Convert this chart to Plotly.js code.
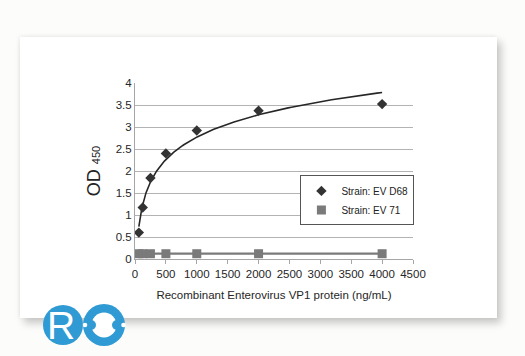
<!DOCTYPE html>
<html>
<head>
<meta charset="utf-8">
<script src="https://cdn.plot.ly/plotly-3.0.1.min.js"></script>
<style>
  html, body { margin:0; padding:0; background:#fcfcfa; width:525px; height:356px; overflow:hidden; }
  #card { position:absolute; left:20px; top:37px; width:477px; height:281px; background:#ffffff;
          box-shadow: 4px 5px 8px rgba(0,0,0,0.22), -1px -1px 4px rgba(0,0,0,0.06); }
  #chart { position:absolute; left:0; top:0; width:525px; height:356px; }
  #logo { position:absolute; left:0; top:0; width:525px; height:356px; pointer-events:none; }
</style>
</head>
<body>
<div id="card"></div>
<div id="chart"></div>
<svg id="logo" width="525" height="356" xmlns="http://www.w3.org/2000/svg">
  <circle cx="63" cy="325" r="20" fill="#2f9ad3"/>
  <circle cx="104" cy="325" r="21" fill="#2f9ad3"/>
  <circle cx="104" cy="325" r="12.5" fill="#ffffff"/>
  <circle cx="91" cy="325" r="5" fill="#2f9ad3"/>
  <circle cx="117" cy="325" r="5" fill="#2f9ad3"/>
  <circle cx="85" cy="325" r="2.3" fill="#ffffff"/>
  <circle cx="123.5" cy="325" r="2.3" fill="#ffffff"/>
  <text x="47" y="339" font-family="Liberation Sans, Arial, sans-serif" font-size="39" fill="#ffffff">R</text>
</svg>
<script>
// Data
const concentrations = [62.5, 125, 250, 500, 1000, 2000, 4000];
const odEVD68 = [0.60, 1.17, 1.84, 2.40, 2.92, 3.37, 3.52];
const odEV71  = [0.12, 0.12, 0.12, 0.12, 0.12, 0.12, 0.12];
const seriesNames = ["Strain: EV D68", "Strain: EV 71"];
const xTicks = [0, 500, 1000, 1500, 2000, 2500, 3000, 3500, 4000, 4500];
const yTicks = [0, 0.5, 1, 1.5, 2, 2.5, 3, 3.5, 4];

// Logarithmic trendline (least squares on ln x), as in the original spreadsheet chart
const lx = concentrations.map(Math.log);
const n = lx.length;
const mx = lx.reduce((a,b)=>a+b,0)/n;
const my = odEVD68.reduce((a,b)=>a+b,0)/n;
let sxy = 0, sxx = 0;
for (let i=0;i<n;i++){ sxy += (lx[i]-mx)*(odEVD68[i]-my); sxx += (lx[i]-mx)*(lx[i]-mx); }
const slope = sxy/sxx, icpt = my - slope*mx;
const fitX = [], fitY = [];
const x0 = concentrations[0], x1 = concentrations[n-1];
for (let k=0;k<=200;k++){
  const xv = x0 * Math.pow(x1/x0, k/200);
  fitX.push(xv); fitY.push(slope*Math.log(xv)+icpt);
}

const font = "Liberation Sans, Arial, sans-serif";
const traces = [
  {x: fitX, y: fitY, mode:"lines", line:{color:"#262626", width:1.6}, showlegend:false, hoverinfo:"skip"},
  {x: concentrations, y: odEV71, mode:"lines", line:{color:"#7a7a7a", width:2.2}, showlegend:false, hoverinfo:"skip"},
  {x: concentrations, y: odEVD68, mode:"markers", name: seriesNames[0],
   marker:{symbol:"diamond", size:8, color:"#333333"}},
  {x: concentrations, y: odEV71, mode:"markers", name: seriesNames[1],
   marker:{symbol:"square", size:9, color:"#7a7a7a"}}
];

const layout = {
  width:525, height:356,
  margin:{l:135, r:111.5, t:82.5, b:97.3, pad:0},
  paper_bgcolor:"rgba(0,0,0,0)", plot_bgcolor:"rgba(0,0,0,0)",
  font:{family:font, size:11, color:"#333333"},
  xaxis:{
    range:[0,4500], tickvals:xTicks, ticktext:xTicks.map(String),
    showgrid:false, zeroline:false, showline:true, linecolor:"#a6a6a6", linewidth:1,
    ticks:"outside", ticklen:4, tickcolor:"#a6a6a6",
    tickfont:{family:font, size:11.5, color:"#262626"},
    title:{text:"Recombinant Enterovirus VP1 protein (ng/mL)", font:{family:font, size:11.5, color:"#262626"}, standoff:12}
  },
  yaxis:{
    range:[0,4], tickvals:yTicks, ticktext:yTicks.map(String),
    showgrid:true, gridcolor:"#b3b3b3", gridwidth:1, zeroline:false,
    showline:true, linecolor:"#a6a6a6", linewidth:1, ticks:"", 
    tickfont:{family:font, size:11.5, color:"#262626"},
    title:{text:"OD <span style='font-size:11px'>450</span>", font:{family:font, size:18, color:"#222"}, standoff:10}
  },
  legend:{
    x:0.595, y:0.475, xanchor:"left", yanchor:"top",
    bgcolor:"#ffffff", bordercolor:"#555555", borderwidth:1,
    font:{family:font, size:10, color:"#222"},
    tracegroupgap:0
  },
  showlegend:true
};

Plotly.newPlot("chart", traces, layout, {displayModeBar:false, staticPlot:true});
</script>
</body>
</html>
